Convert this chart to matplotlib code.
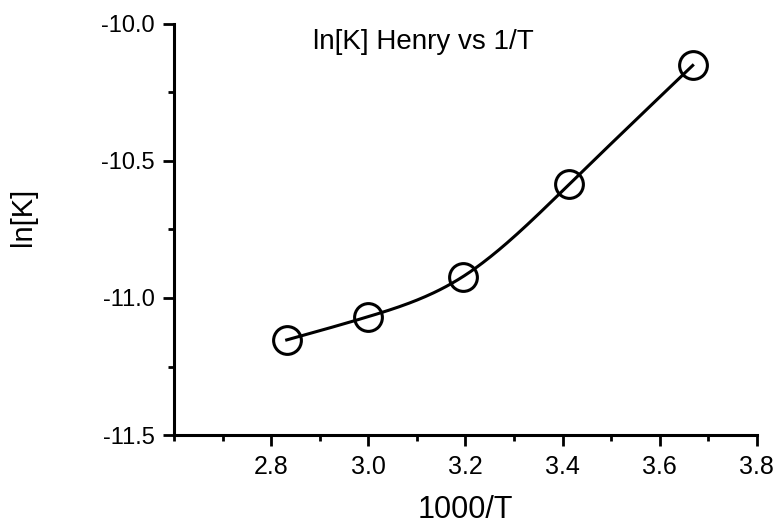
import numpy as np
import matplotlib.pyplot as plt
from matplotlib.ticker import MultipleLocator

plt.rcParams['font.family'] = ['Liberation Sans', 'DejaVu Sans']

# data
inv_T = [2.832, 3.000, 3.195, 3.414, 3.668]     # 1000/T
ln_K = [-11.153, -11.068, -10.922, -10.585, -10.152]

title = 'ln[K] Henry vs 1/T'
xticks = [2.8, 3.0, 3.2, 3.4, 3.6, 3.8]
yticks = [-11.5, -11.0, -10.5, -10.0]


def natural_spline(x, y, n=200):
    # natural cubic spline through the points (for the smooth curve)
    x = np.asarray(x, float); y = np.asarray(y, float)
    k = len(x); h = np.diff(x)
    A = np.zeros((k, k)); b = np.zeros(k)
    A[0, 0] = A[-1, -1] = 1
    for i in range(1, k - 1):
        A[i, i - 1] = h[i - 1]; A[i, i] = 2 * (h[i - 1] + h[i]); A[i, i + 1] = h[i]
        b[i] = 6 * ((y[i + 1] - y[i]) / h[i] - (y[i] - y[i - 1]) / h[i - 1])
    M = np.linalg.solve(A, b)
    xs = np.linspace(x[0], x[-1], n)
    j = np.clip(np.searchsorted(x, xs) - 1, 0, k - 2)
    t0 = x[j + 1] - xs; t1 = xs - x[j]
    ys = (M[j] * t0**3 + M[j + 1] * t1**3) / (6 * h[j]) \
        + (y[j] / h[j] - M[j] * h[j] / 6) * t0 + (y[j + 1] / h[j] - M[j + 1] * h[j] / 6) * t1
    return xs, ys


fig = plt.figure(figsize=(7.77, 5.28), dpi=100)
ax = fig.add_axes([0.224, 0.176, 0.75, 0.779])

xs, ys = natural_spline(inv_T, ln_K)
ax.plot(xs, ys, color='black', lw=2.2)
ax.plot(inv_T, ln_K, 'o', ms=20, mfc='none', mec='black', mew=2.2)

ax.set_xlim(2.6, 3.8)
ax.set_ylim(-11.5, -10.0)
ax.set_xticks(xticks)
ax.set_yticks(yticks)
ax.set_xticklabels(['%.1f' % v for v in xticks])
ax.set_yticklabels(['%.1f' % v for v in yticks])
ax.xaxis.set_minor_locator(MultipleLocator(0.1))
ax.yaxis.set_minor_locator(MultipleLocator(0.25))

for s in ['top', 'right']:
    ax.spines[s].set_visible(False)
for s in ['left', 'bottom']:
    ax.spines[s].set_linewidth(2.2)
ax.tick_params(which='major', length=8, width=2, pad=6, direction='out')
ax.tick_params(which='minor', length=4.5, width=2, direction='out')
ax.tick_params(axis='y', labelsize=17)
ax.tick_params(axis='x', labelsize=18)

ax.set_xlabel('1000/T', fontsize=22, labelpad=12)
ax.set_ylabel('ln[K]', fontsize=21)
ax.yaxis.set_label_coords(-0.235, 0.53)
ax.text(0.238, 0.955, title, transform=ax.transAxes, fontsize=20, va='center', ha='left')

fig.savefig('out.png', dpi=100)
